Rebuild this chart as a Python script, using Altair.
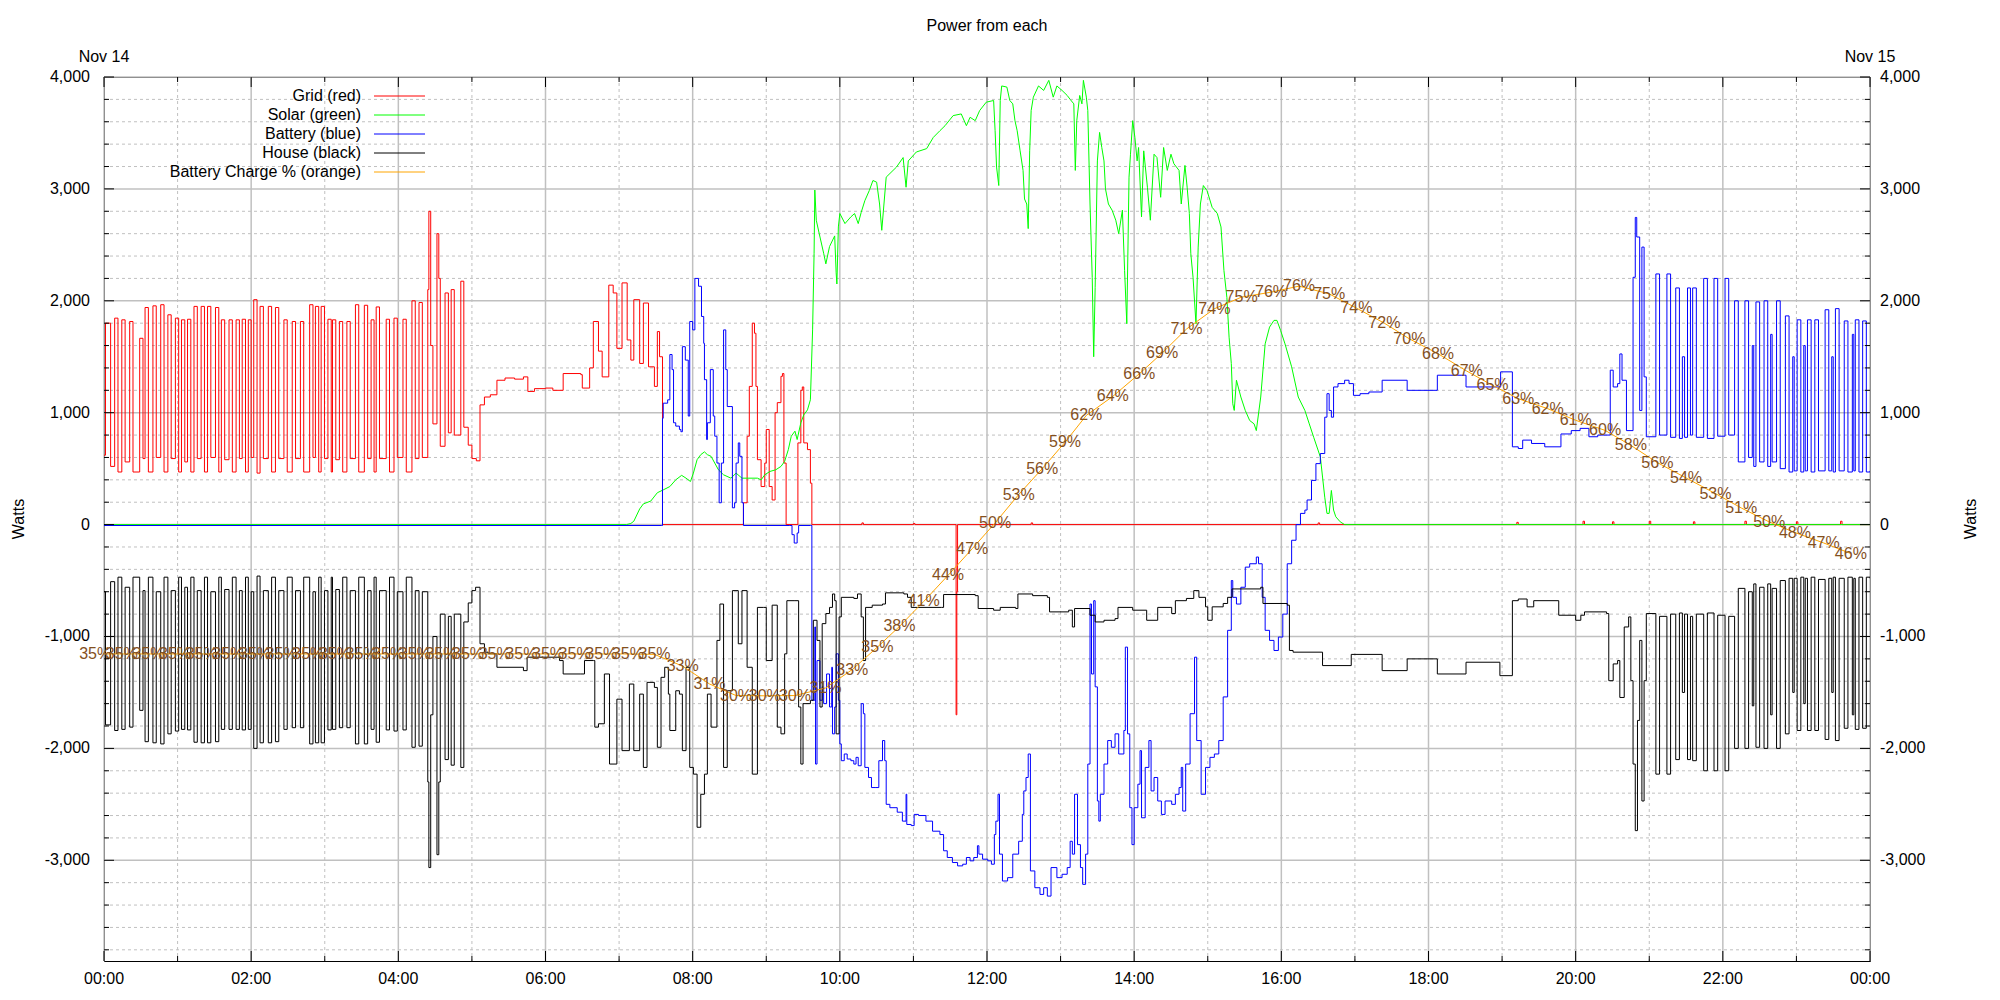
import altair as alt
import pandas as pd

W_PLOT, H_PLOT = 1766, 884
X_DOM = [0, 24]
Y_DOM = [-3900, 4000]
FONT = "Liberation Sans"
BROWN = "#84501e"
GRID_C = "#c0c0c0"

# ---- night section: (hour, grid W, house W) ----
night_rows = [
    (0.000, 620, -600), (0.020, 1800, -1790), (0.090, 520, -510), (0.145, 1845, -1840),
    (0.190, 470, -470), (0.242, 1830, -1830), (0.287, 560, -560), (0.349, 1815, -1810),
    (0.394, 470, -470), (0.485, 1665, -1660), (0.530, 590, -590), (0.558, 1940, -1940),
    (0.603, 470, -470), (0.665, 1955, -1950), (0.710, 600, -600), (0.771, 1965, -1960),
    (0.816, 470, -470), (0.868, 1875, -1870), (0.913, 590, -590), (0.970, 1845, -1845),
    (1.015, 470, -470), (1.053, 1830, -1830), (1.098, 560, -560), (1.135, 1835, -1835),
    (1.180, 470, -470), (1.223, 1950, -1945), (1.268, 590, -590), (1.320, 1950, -1950),
    (1.365, 470, -470), (1.407, 1950, -1950), (1.452, 600, -600), (1.515, 1940, -1940),
    (1.560, 470, -470), (1.595, 1830, -1830), (1.640, 580, -580), (1.699, 1830, -1830),
    (1.744, 470, -470), (1.795, 1830, -1830), (1.840, 590, -590), (1.878, 1835, -1835),
    (1.923, 470, -470), (1.961, 1830, -1830), (2.000, 600, -600), (2.035, 2010, -2000),
    (2.080, 460, -460), (2.121, 1950, -1950), (2.166, 590, -590), (2.233, 1950, -1950),
    (2.278, 470, -470), (2.330, 1940, -1940), (2.375, 590, -590), (2.445, 1830, -1830),
    (2.490, 470, -470), (2.558, 1815, -1815), (2.603, 590, -590), (2.669, 1815, -1815),
    (2.714, 470, -470), (2.795, 1965, -1960), (2.840, 600, -600), (2.873, 1950, -1950),
    (2.918, 470, -470), (2.951, 1950, -1950), (2.996, 590, -590), (3.043, 1835, -1835),
    (3.088, 470, -470), (3.105, 1830, -1830), (3.150, 580, -580), (3.199, 1815, -1815),
    (3.244, 470, -470), (3.301, 1815, -1815), (3.346, 590, -590), (3.417, 1965, -1960),
    (3.462, 470, -470), (3.538, 1960, -1960), (3.583, 590, -590), (3.630, 1830, -1830),
    (3.670, 470, -470), (3.699, 1945, -1945), (3.744, 590, -590), (3.835, 1835, -1835),
    (3.880, 470, -470), (3.941, 1845, -1845), (3.986, 600, -600), (4.063, 1835, -1835),
    (4.108, 470, -470), (4.185, 2000, -1990), (4.230, 590, -590), (4.281, 1985, -1980),
    (4.326, 600, -600), (4.400, 2100, -2300), (4.415, 2800, -3065), (4.440, 1600, -1700),
    (4.470, 900, -1000), (4.525, 2600, -2950), (4.550, 2200, -2300), (4.570, 700, -800),
    (4.635, 2070, -2100), (4.680, 820, -820), (4.718, 2100, -2150), (4.760, 800, -800),
    (4.849, 2175, -2170), (4.890, 870, -870), (4.950, 710, -700), (5.000, 590, -590),
]

# ---- grid (red) after the night section: (hour, W) ----
grid_day = [
    (5.06, 570), (5.11, 1070), (5.17, 1140), (5.25, 1160), (5.34, 1290), (5.45, 1310),
    (5.58, 1300), (5.70, 1320), (5.76, 1190), (5.85, 1215), (6.00, 1220), (6.10, 1200),
    (6.24, 1350), (6.48, 1340), (6.50, 1220), (6.60, 1400), (6.65, 1815), (6.72, 1550),
    (6.77, 1320), (6.86, 2140), (6.92, 2070), (6.97, 1575), (7.04, 2160), (7.11, 1650),
    (7.16, 1470), (7.20, 2010), (7.28, 1440), (7.33, 1980), (7.40, 1410), (7.48, 1235),
    (7.52, 1725), (7.55, 1500), (7.59, 0), (8.69, 195), (8.74, 790), (8.77, 1235),
    (8.81, 1800), (8.84, 1710), (8.86, 1235), (8.88, 580), (8.93, 340), (8.98, 550),
    (9.00, 850), (9.04, 340), (9.08, 220), (9.12, 1000), (9.15, 1090), (9.20, 1325),
    (9.22, 1350), (9.24, 550), (9.27, 0), (9.43, 730), (9.47, 1200), (9.49, 1230),
    (9.51, 730), (9.56, 670), (9.60, 370), (9.62, 0), (10.30, 15), (10.32, 0),
    (11.00, 10), (11.02, 0), (11.58, -1700), (11.59, -600), (11.60, 0), (12.60, 15),
    (12.62, 0), (16.50, 15), (16.52, 0), (19.20, 20), (19.22, 0), (20.10, 30),
    (20.12, 0), (20.50, 25), (20.52, 0), (21.00, 30), (21.02, 0), (21.60, 25),
    (21.62, 0), (22.30, 30), (22.32, 0), (23.00, 25), (23.02, 0), (23.60, 30),
    (23.62, 0), (24.00, 0),
]

# ---- battery (blue) daytime: (hour, W) ----
battery_day = [
    (0.00, -8), (7.58, -8), (7.59, 950), (7.60, 1085), (7.66, 1115), (7.69, 1520),
    (7.72, 1385), (7.74, 910), (7.77, 880), (7.82, 850), (7.84, 830), (7.86, 1590),
    (7.90, 1470), (7.94, 970), (7.96, 1815), (8.00, 1740), (8.03, 2200), (8.08, 2130),
    (8.12, 1860), (8.15, 1620), (8.16, 1295), (8.19, 760), (8.20, 910), (8.24, 1385),
    (8.28, 970), (8.30, 790), (8.33, 550), (8.36, 195), (8.39, 550), (8.42, 1740),
    (8.45, 1385), (8.47, 1055), (8.52, 1055), (8.54, 150), (8.57, 195), (8.59, 550),
    (8.62, 730), (8.64, 610), (8.67, 195), (8.69, -8), (9.32, -8), (9.35, -90),
    (9.38, -165), (9.42, -75), (9.44, -8), (9.60, -8), (9.62, -1570), (9.66, -915),
    (9.67, -2140), (9.69, -1215), (9.73, -1570), (9.76, -1450), (9.78, -1600), (9.82, -1335),
    (9.86, -1630), (9.89, -1275), (9.90, -1870), (9.93, -1630), (9.95, -1155), (9.98, -1570),
    (10.00, -1960), (10.02, -2110), (10.06, -2050), (10.10, -2095), (10.15, -2110), (10.19, -2140),
    (10.22, -2080), (10.25, -2155), (10.29, -1600), (10.32, -1690), (10.34, -2170), (10.39, -2260),
    (10.43, -2350), (10.49, -2350), (10.53, -2110), (10.58, -1930), (10.61, -2110), (10.63, -2500),
    (10.68, -2530), (10.78, -2570), (10.85, -2650), (10.90, -2410), (10.91, -2680), (10.97, -2690),
    (11.01, -2590), (11.07, -2600), (11.17, -2650), (11.26, -2740), (11.36, -2770), (11.41, -2915),
    (11.46, -2975), (11.53, -3020), (11.60, -3050), (11.67, -3035), (11.72, -2975), (11.77, -3005),
    (11.82, -2975), (11.87, -2870), (11.89, -2945), (11.94, -2990), (12.01, -3005), (12.06, -3035),
    (12.10, -2770), (12.12, -2650), (12.15, -2410), (12.17, -2945), (12.21, -3185), (12.28, -3155),
    (12.35, -2945), (12.43, -2830), (12.48, -2590), (12.50, -2380), (12.53, -2260), (12.56, -2050),
    (12.59, -3095), (12.65, -3245), (12.72, -3305), (12.77, -3245), (12.82, -3320), (12.87, -3065),
    (12.95, -3155), (13.02, -3125), (13.09, -3065), (13.13, -2830), (13.16, -2945), (13.19, -2410),
    (13.23, -2860), (13.27, -3065), (13.30, -3215), (13.34, -2945), (13.37, -2140), (13.40, -710),
    (13.42, -1335), (13.45, -680), (13.47, -1450), (13.50, -2470), (13.52, -2650), (13.54, -2410),
    (13.59, -2140), (13.64, -1930), (13.69, -1990), (13.74, -1870), (13.79, -2050), (13.86, -1840),
    (13.88, -1095), (13.91, -1870), (13.94, -2530), (13.97, -2860), (14.00, -2530), (14.05, -2320),
    (14.08, -2020), (14.10, -2620), (14.15, -2170), (14.20, -1930), (14.23, -2380), (14.27, -2260),
    (14.32, -2470), (14.37, -2590), (14.42, -2470), (14.51, -2500), (14.56, -2410), (14.61, -2350),
    (14.64, -2170), (14.66, -2560), (14.70, -2140), (14.76, -1690), (14.82, -1185), (14.85, -1930),
    (14.91, -2410), (14.97, -2170), (15.03, -2080), (15.09, -2050), (15.15, -1930), (15.21, -1540),
    (15.27, -945), (15.32, -500), (15.34, -650), (15.39, -710), (15.45, -560), (15.51, -380),
    (15.57, -350), (15.66, -290), (15.69, -350), (15.74, -650), (15.78, -945), (15.84, -1035),
    (15.90, -1125), (15.96, -1005), (16.02, -800), (16.08, -350), (16.14, -140), (16.20, 0),
    (16.26, 100), (16.32, 130), (16.35, 220), (16.41, 395), (16.47, 545), (16.53, 635),
    (16.59, 960), (16.62, 1170), (16.65, 1020), (16.68, 960), (16.71, 1230), (16.77, 1260),
    (16.86, 1290), (16.92, 1260), (16.98, 1155), (17.07, 1170), (17.19, 1185), (17.37, 1290),
    (17.71, 1200), (18.12, 1335), (18.51, 1230), (18.98, 1365), (19.14, 695), (19.22, 680),
    (19.28, 755), (19.40, 725), (19.58, 695), (19.80, 810), (19.94, 840), (20.06, 860),
    (20.18, 785), (20.30, 800), (20.47, 1380), (20.51, 1230), (20.57, 1260), (20.60, 1525),
    (20.63, 1290), (20.69, 840), (20.78, 2210), (20.81, 2745), (20.83, 2570), (20.87, 1020),
    (20.90, 2480), (20.93, 1320),
]

# ---- house (black) daytime: (hour, W) ----
house_day = [
    (5.05, -560), (5.11, -1065), (5.17, -1140), (5.22, -1155), (5.34, -1275), (5.70, -1305),
    (5.75, -1185), (6.19, -1215), (6.24, -1335), (6.48, -1335), (6.53, -1215), (6.65, -1215),
    (6.67, -1810), (6.72, -1780), (6.80, -1335), (6.87, -2140), (6.97, -1560), (7.04, -2020),
    (7.14, -1425), (7.20, -2020), (7.28, -1515), (7.33, -2170), (7.38, -1410), (7.48, -1455),
    (7.52, -1990), (7.57, -1365), (7.62, -1275), (7.67, -1515), (7.69, -1840), (7.77, -1485),
    (7.82, -1515), (7.86, -2020), (7.91, -1275), (7.96, -2170), (8.01, -2230), (8.06, -2705),
    (8.11, -2410), (8.16, -2230), (8.20, -1515), (8.25, -1810), (8.33, -1035), (8.37, -710),
    (8.42, -2170), (8.47, -1485), (8.54, -590), (8.62, -1065), (8.67, -590), (8.74, -1275),
    (8.81, -2230), (8.88, -740), (8.96, -740), (9.00, -1215), (9.08, -720), (9.15, -1810),
    (9.20, -1870), (9.25, -1155), (9.28, -680), (9.39, -680), (9.44, -1630), (9.47, -2140),
    (9.50, -1600), (9.60, -1570), (9.64, -855), (9.69, -1035), (9.73, -1630), (9.76, -885),
    (9.81, -795), (9.86, -740), (9.90, -620), (9.93, -680), (9.95, -1870), (9.99, -825),
    (10.02, -650), (10.19, -660), (10.24, -620), (10.29, -825), (10.32, -1215), (10.35, -740),
    (10.44, -720), (10.58, -710), (10.62, -610), (10.87, -620), (10.92, -650), (10.97, -740),
    (11.38, -740), (11.41, -625), (11.84, -635), (11.88, -750), (12.09, -765), (12.18, -740),
    (12.39, -750), (12.42, -620), (12.62, -635), (12.82, -650), (12.85, -780), (13.11, -765),
    (13.16, -915), (13.19, -750), (13.40, -810), (13.47, -870), (13.59, -855), (13.74, -840),
    (13.78, -740), (13.98, -765), (14.17, -855), (14.32, -740), (14.51, -795), (14.56, -680),
    (14.71, -660), (14.81, -590), (14.88, -650), (14.97, -735), (15.00, -855), (15.06, -735),
    (15.21, -705), (15.27, -650), (15.33, -575), (15.72, -560), (15.75, -705), (16.08, -720),
    (16.11, -1125), (16.16, -1140), (16.56, -1260), (16.95, -1160), (17.37, -1305), (17.71, -1200),
    (18.12, -1335), (18.51, -1230), (18.97, -1350), (19.14, -680), (19.22, -665), (19.34, -735),
    (19.43, -680), (19.77, -810), (20.00, -855), (20.07, -810), (20.12, -780), (20.42, -795),
    (20.45, -1395), (20.51, -1245), (20.57, -1215), (20.60, -1545), (20.66, -915), (20.72, -825),
    (20.75, -1395), (20.78, -2140), (20.81, -2735), (20.84, -1750), (20.87, -1035), (20.90, -2470),
    (20.93, -1395),
]

# ---- evening section: (hour, battery W, house W) ----
eve_rows = [
    (20.96, 785, -795), (21.09, 2240, -2230), (21.14, 800, -820), (21.24, 2240, -2230),
    (21.29, 780, -800), (21.36, 2115, -2100), (21.41, 770, -790), (21.45, 1500, -1500),
    (21.48, 780, -800), (21.52, 2115, -2100), (21.56, 800, -820), (21.59, 2115, -2110),
    (21.64, 780, -800), (21.74, 2200, -2200), (21.79, 770, -790), (21.88, 2200, -2200),
    (21.93, 790, -810), (22.03, 2200, -2200), (22.08, 800, -820), (22.16, 2000, -2000),
    (22.21, 560, -570), (22.30, 2000, -2000), (22.35, 600, -600), (22.40, 1600, -1620),
    (22.42, 520, -530), (22.45, 1990, -1990), (22.50, 560, -560), (22.56, 2000, -2000),
    (22.61, 520, -530), (22.65, 1700, -1700), (22.67, 560, -570), (22.73, 2000, -2000),
    (22.78, 500, -500), (22.85, 1865, -1870), (22.90, 470, -480), (22.95, 1500, -1500),
    (22.97, 480, -480), (23.01, 1830, -1840), (23.06, 470, -470), (23.10, 1600, -1600),
    (23.12, 480, -480), (23.15, 1830, -1840), (23.20, 470, -470), (23.25, 1830, -1840),
    (23.30, 480, -490), (23.39, 1920, -1920), (23.44, 480, -480), (23.48, 1500, -1500),
    (23.50, 470, -470), (23.53, 1930, -1930), (23.58, 480, -480), (23.65, 1820, -1820),
    (23.70, 470, -470), (23.76, 1700, -1700), (23.78, 480, -480), (23.80, 1830, -1830),
    (23.85, 470, -470), (23.90, 1820, -1820), (23.95, 470, -470), (24.00, 480, -480),
]

# ---- solar (green): (hour, W) ----
solar_pts = [
    (0.00, 0), (7.10, 0), (7.16, 10), (7.20, 30), (7.28, 140), (7.33, 185), (7.43, 210),
    (7.52, 285), (7.60, 310), (7.69, 340), (7.77, 400), (7.85, 440), (7.91, 415), (7.97, 385),
    (8.01, 460), (8.06, 580), (8.11, 625), (8.16, 650), (8.20, 625), (8.25, 610), (8.30, 550),
    (8.35, 490), (8.42, 445), (8.52, 415), (8.59, 460), (8.67, 415), (8.88, 415), (8.93, 400),
    (8.98, 445), (9.05, 475), (9.13, 490), (9.20, 520), (9.25, 565), (9.30, 670), (9.34, 790),
    (9.39, 835), (9.42, 760), (9.47, 910), (9.51, 980), (9.56, 1025), (9.60, 1115), (9.63, 1740),
    (9.65, 2425), (9.66, 2990), (9.68, 2720), (9.72, 2600), (9.78, 2425), (9.81, 2330),
    (9.86, 2485), (9.93, 2580), (9.95, 2250), (9.96, 2150), (9.98, 2660), (10.00, 2780),
    (10.07, 2690), (10.15, 2750), (10.20, 2780), (10.25, 2690), (10.29, 2790), (10.34, 2895),
    (10.40, 2985), (10.45, 3075), (10.50, 3060), (10.54, 2865), (10.57, 2630), (10.63, 3105),
    (10.77, 3195), (10.86, 3280), (10.90, 3015), (10.93, 3250), (11.04, 3330), (11.18, 3360),
    (11.27, 3460), (11.36, 3520), (11.43, 3565), (11.54, 3655), (11.65, 3670), (11.72, 3565),
    (11.77, 3640), (11.84, 3610), (11.90, 3700), (11.99, 3775), (12.09, 3790), (12.11, 3520),
    (12.13, 3195), (12.16, 3030), (12.18, 3790), (12.20, 3920), (12.27, 3910), (12.31, 3790),
    (12.35, 3760), (12.38, 3610), (12.41, 3520), (12.45, 3340), (12.49, 3165), (12.51, 2910),
    (12.54, 2865), (12.56, 2645), (12.58, 3340), (12.60, 3700), (12.63, 3820), (12.70, 3920),
    (12.77, 3880), (12.84, 3970), (12.90, 3820), (12.95, 3920), (13.02, 3880), (13.09, 3835),
    (13.13, 3800), (13.18, 3760), (13.20, 3165), (13.22, 3610), (13.26, 3835), (13.29, 3760),
    (13.31, 3970), (13.35, 3820), (13.37, 3700), (13.40, 2865), (13.43, 2210), (13.45, 1500),
    (13.47, 2120), (13.50, 3250), (13.53, 3505), (13.56, 3370), (13.59, 3250), (13.61, 3000),
    (13.65, 2865), (13.70, 2810), (13.75, 2720), (13.79, 2600), (13.84, 2810), (13.87, 2270),
    (13.90, 1795), (13.93, 3105), (13.95, 3310), (13.98, 3610), (14.01, 3460), (14.04, 3250),
    (14.06, 3370), (14.10, 2750), (14.13, 3340), (14.18, 3015), (14.22, 2720), (14.27, 3310),
    (14.31, 3280), (14.36, 2925), (14.40, 3370), (14.45, 3165), (14.50, 3310), (14.54, 3225),
    (14.61, 3165), (14.64, 2865), (14.69, 3210), (14.72, 3015), (14.75, 2780), (14.77, 2420),
    (14.80, 2210), (14.84, 1795), (14.87, 2480), (14.90, 2865), (14.94, 3030), (14.99, 2985),
    (15.06, 2835), (15.13, 2780), (15.18, 2660), (15.22, 2270), (15.26, 2030), (15.29, 1675),
    (15.32, 1440), (15.34, 1080), (15.36, 1020), (15.39, 1290), (15.45, 1140), (15.51, 1020),
    (15.57, 930), (15.63, 900), (15.66, 840), (15.72, 1140), (15.78, 1615), (15.84, 1765),
    (15.90, 1825), (15.94, 1825), (15.99, 1735), (16.05, 1615), (16.14, 1410), (16.23, 1140),
    (16.32, 1020), (16.38, 900), (16.44, 780), (16.53, 605), (16.56, 425), (16.59, 245),
    (16.62, 100), (16.65, 100), (16.68, 305), (16.71, 130), (16.74, 70), (16.80, 25),
    (16.86, 0), (24.00, 0),
]

# ---- battery charge curve, as drawn on the W axis, with its printed % ----
charge_rows = [
    (-0.120, -1156, 35), (0.242, -1156, 35), (0.604, -1156, 35), (0.966, -1156, 35),
    (1.328, -1156, 35), (1.690, -1156, 35), (2.052, -1156, 35), (2.414, -1156, 35),
    (2.776, -1156, 35), (3.138, -1156, 35), (3.500, -1156, 35), (3.862, -1156, 35),
    (4.224, -1156, 35), (4.586, -1156, 35), (4.948, -1156, 35), (5.310, -1156, 35),
    (5.672, -1156, 35), (6.034, -1156, 35), (6.396, -1156, 35), (6.758, -1156, 35),
    (7.120, -1156, 35), (7.482, -1160, 35), (7.864, -1265, 33), (8.228, -1424, 31),
    (8.590, -1528, 30), (8.980, -1530, 30), (9.390, -1528, 30), (9.806, -1460, 31),
    (10.170, -1295, 33), (10.510, -1095, 35), (10.810, -910, 38), (11.140, -687, 41),
    (11.470, -454, 44), (11.800, -215, 47), (12.110, 15, 50), (12.430, 268, 53),
    (12.750, 500, 56), (13.060, 735, 59), (13.350, 976, 62), (13.710, 1146, 64),
    (14.070, 1348, 66), (14.380, 1533, 69), (14.710, 1747, 71), (15.090, 1929, 74),
    (15.460, 2033, 75), (15.860, 2077, 76), (16.240, 2131, 76), (16.650, 2062, 75),
    (17.020, 1935, 74), (17.400, 1800, 72), (17.740, 1660, 70), (18.130, 1527, 68),
    (18.520, 1372, 67), (18.870, 1244, 65), (19.220, 1125, 63), (19.620, 1036, 62),
    (20.000, 932, 61), (20.400, 842, 60), (20.750, 708, 58), (21.110, 554, 56),
    (21.500, 417, 54), (21.900, 277, 53), (22.250, 149, 51), (22.630, 24, 50),
    (22.980, -71, 48), (23.370, -164, 47), (23.740, -259, 46),
]

title_text = ["Power from each"]
axis_title = ["Watts"]
legend_labels = ["Grid (red)", "Solar (green)", "Battery (blue)", "House (black)",
                 "Battery Charge % (orange)"]
legend_colors = ["#ff0000", "#00ff00", "#0000ff", "#000000", "#ffa500"]
date_labels = ["Nov 14", "Nov 15"]
date_pos = [0, 24]
hour_major = [0, 2, 4, 6, 8, 10, 12, 14, 16, 18, 20, 22, 24]
hour_minor = [1, 3, 5, 7, 9, 11, 13, 15, 17, 19, 21, 23]
hour_labels = ["00:00", "02:00", "04:00", "06:00", "08:00", "10:00", "12:00",
               "14:00", "16:00", "18:00", "20:00", "22:00", "00:00"]
watt_major = [-3000, -2000, -1000, 0, 1000, 2000, 3000, 4000]
watt_labels = ["-3,000", "-2,000", "-1,000", "0", "1,000", "2,000", "3,000", "4,000"]
watt_minor = [v for v in range(-3800, 4000, 200) if v % 1000 != 0]

# ---- tables ----
grid_df = pd.DataFrame([(t, g) for t, g, h in night_rows] + grid_day, columns=["t", "w"])
house_df = pd.DataFrame([(t, h) for t, g, h in night_rows] + house_day +
                        [(t, h) for t, b, h in eve_rows], columns=["t", "w"])
battery_df = pd.DataFrame(battery_day + [(t, b) for t, b, h in eve_rows], columns=["t", "w"])
solar_df = pd.DataFrame(solar_pts, columns=["t", "w"])
charge_df = pd.DataFrame(charge_rows, columns=["t", "w", "pct"])
charge_df["text"] = charge_df["pct"].astype(str) + "%"
legend_df = pd.DataFrame({"label": legend_labels, "color": legend_colors,
                          "row": list(range(len(legend_labels)))})
date_df = pd.DataFrame({"t": date_pos, "label": date_labels})
xlab_df = pd.DataFrame({"t": hour_major, "label": hour_labels})
ylab_df = pd.DataFrame({"w": watt_major, "label": watt_labels})

xs = alt.Scale(domain=X_DOM, nice=False, zero=False)
ys = alt.Scale(domain=Y_DOM, nice=False, zero=False)


def X(field="t:Q"):
    return alt.X(field, scale=xs, axis=None)


def Y(field="w:Q"):
    return alt.Y(field, scale=ys, axis=None)


# ---- grid lines ----
def hgrid(vals, width, dash):
    mk = dict(color=GRID_C, strokeWidth=width)
    if dash:
        mk["strokeDash"] = dash
    return alt.Chart(pd.DataFrame({"w": vals})).mark_rule(**mk).encode(
        y=Y(), x=alt.value(0), x2=alt.value(W_PLOT))


def vgrid(vals, width, dash):
    mk = dict(color=GRID_C, strokeWidth=width)
    if dash:
        mk["strokeDash"] = dash
    return alt.Chart(pd.DataFrame({"t": vals})).mark_rule(**mk).encode(
        x=X(), y=alt.value(0), y2=alt.value(H_PLOT))


grid_layers = [
    hgrid(watt_minor, 1, [3, 3]), vgrid(hour_minor, 1, [3, 3]),
    hgrid(watt_major, 1.5, None), vgrid(hour_major, 1.5, None),
]


# ---- data lines ----
def line(df, color, interp):
    return alt.Chart(df).mark_line(color=color, strokeWidth=1, interpolate=interp, clip=True).encode(
        x=X(), y=Y())


grid_line = line(grid_df, "#ff0000", "step-after")
solar_line = line(solar_df, "#00ff00", "linear")
battery_line = line(battery_df, "#0000ff", "step-after")
house_line = line(house_df, "#000000", "step-after")
charge_line = line(charge_df, "#ffa500", "linear")

charge_text = alt.Chart(charge_df).mark_text(
    fontSize=16, color=BROWN, align="center", baseline="middle"
).encode(x=X(), y=Y(), text="text:N")


# ---- inward ticks ----
def yticks(vals, x0, x1):
    return alt.Chart(pd.DataFrame({"w": vals})).mark_rule(color="black", strokeWidth=1).encode(
        y=Y(), x=alt.value(x0), x2=alt.value(x1))


def xticks(vals, y0, y1):
    return alt.Chart(pd.DataFrame({"t": vals})).mark_rule(color="black", strokeWidth=1).encode(
        x=X(), y=alt.value(y0), y2=alt.value(y1))


tick_layers = [
    yticks(watt_major, 0, 10), yticks(watt_minor, 0, 5),
    yticks(watt_major, W_PLOT - 10, W_PLOT), yticks(watt_minor, W_PLOT - 5, W_PLOT),
    xticks(hour_major, H_PLOT, H_PLOT - 10), xticks(hour_minor, H_PLOT, H_PLOT - 5),
    xticks(hour_major, 0, 10), xticks(hour_minor, 0, 5),
]

# ---- axis labels and titles ----
txt = dict(fontSize=16, color="black")
ylab_left = alt.Chart(ylab_df).mark_text(align="right", baseline="middle", **txt).encode(
    y=Y(), x=alt.value(-14), text="label:N")
ylab_right = alt.Chart(ylab_df).mark_text(align="left", baseline="middle", **txt).encode(
    y=Y(), x=alt.value(W_PLOT + 10), text="label:N")
xlab = alt.Chart(xlab_df).mark_text(align="center", baseline="top", **txt).encode(
    x=X(), y=alt.value(H_PLOT + 10), text="label:N")
ytitle_df = pd.DataFrame({"label": axis_title})
ytitle_left = alt.Chart(ytitle_df).mark_text(angle=270, align="center", baseline="middle", **txt).encode(
    x=alt.value(-85), y=alt.value(H_PLOT / 2), text="label:N")
ytitle_right = alt.Chart(ytitle_df).mark_text(angle=270, align="center", baseline="middle", **txt).encode(
    x=alt.value(W_PLOT + 101), y=alt.value(H_PLOT / 2), text="label:N")
title_mark = alt.Chart(pd.DataFrame({"label": title_text})).mark_text(
    align="center", baseline="alphabetic", **txt).encode(
    x=alt.value(W_PLOT / 2), y=alt.value(-46), text="label:N")
date_text = alt.Chart(date_df).mark_text(align="center", baseline="alphabetic", **txt).encode(
    x=X(), y=alt.value(-15), text="label:N")

# ---- legend ----
legend_base = alt.Chart(legend_df).transform_calculate(ypx="19 + 19 * datum.row")
legend_text = legend_base.mark_text(align="right", baseline="middle", **txt).encode(
    x=alt.value(257), y=alt.Y("ypx:Q", scale=None), text="label:N")
legend_rule = legend_base.mark_rule(strokeWidth=1).encode(
    x=alt.value(270), x2=alt.value(321), y=alt.Y("ypx:Q", scale=None),
    color=alt.Color("color:N", scale=None))

chart = alt.layer(
    *grid_layers,
    grid_line, solar_line, battery_line, house_line, charge_line, charge_text,
    *tick_layers,
    ylab_left, ylab_right, xlab, ytitle_left, ytitle_right, title_mark, date_text,
    legend_text, legend_rule,
).properties(
    width=W_PLOT, height=H_PLOT,
    autosize=alt.AutoSizeParams(type="none"),
    padding={"left": 96, "top": 69, "right": 120, "bottom": 30},
).configure(font=FONT).configure_view(stroke="black", strokeWidth=1)

chart.save("out.html", embed_options={"renderer": "svg", "actions": False})
